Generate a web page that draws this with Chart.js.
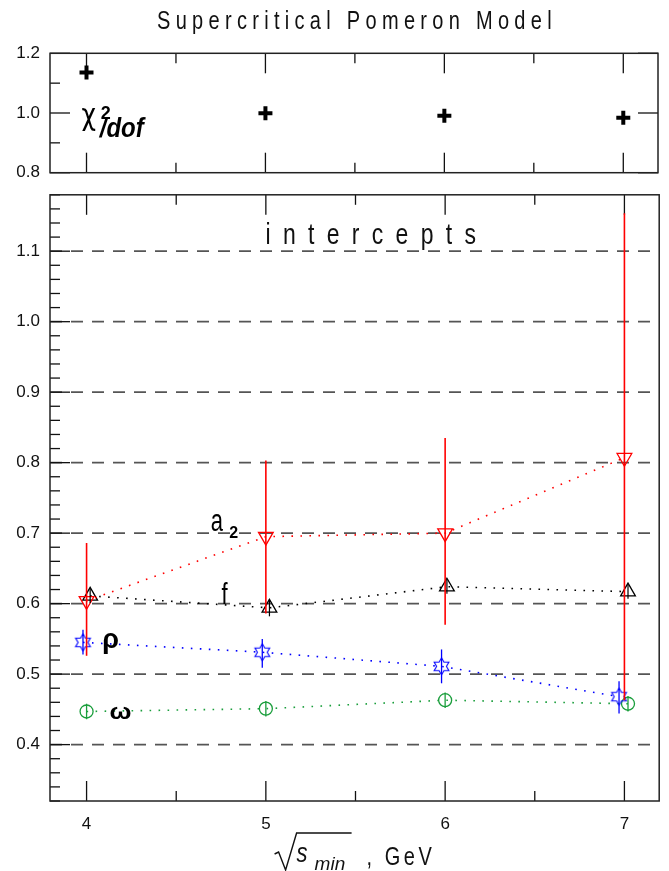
<!DOCTYPE html>
<html><head><meta charset="utf-8">
<script src="https://cdn.jsdelivr.net/npm/chart.js@4.4.0/dist/chart.umd.min.js"></script>
<style>
html,body{margin:0;padding:0;background:#fff;}
#wrap{position:relative;width:669px;height:871px;overflow:hidden;background:#fff;}
#c1{position:absolute;left:0;top:0;}
#c2{position:absolute;left:0;top:185px;}
</style></head><body>
<div id="wrap"><canvas id="c1" width="669" height="185"></canvas><canvas id="c2" width="669" height="686"></canvas></div>
<script>
// ---------------- data ----------------
const xCats = [4, 5, 6, 7];
const xTickLabels = ['4', '5', '6', '7'];
const chiTickValues = [0.8, 1.0, 1.2];
const chi2 = [1.136, 0.999, 0.991, 0.984];
const intTickValues = [0.4, 0.5, 0.6, 0.7, 0.8, 0.9, 1.0, 1.1];

const a2X = [4.0, 5.0, 6.0, 7.0];
const a2 = [0.604, 0.695, 0.700, 0.807];
const a2Plus = [0.082, 0.108, 0.135, 0.347];
const a2Minus = [0.078, 0.109, 0.130, 0.344];

const fX = [4.02, 5.02, 6.01, 7.02];
const fVal = [0.611, 0.594, 0.624, 0.617];
const fErr = [0.010, 0.012, 0.010, 0.010];

const rhoX = [3.98, 4.98, 5.98, 6.97];
const rho = [0.545, 0.531, 0.511, 0.468];
const rhoPlus = [0.018, 0.019, 0.024, 0.022];
const rhoMinus = [0.017, 0.022, 0.024, 0.024];

const omegaX = [4.0, 5.0, 6.0, 7.02];
const omega = [0.447, 0.451, 0.463, 0.458];
const omegaErr = [0.011, 0.011, 0.011, 0.011];

// ---------------- helpers ----------------
const FONT = "'Liberation Sans', Arial, sans-serif";
const X_MIN = 3.796, X_MAX = 7.194;
const RED = '#ff0000', BLUE = '#0000ff', GREEN = '#1a9e3c', BLACK = '#000000';

function pts(xs, ys) { return xs.map((x, i) => ({ x: x, y: ys[i] })); }
function seg(ctx, x1, y1, x2, y2) { ctx.beginPath(); ctx.moveTo(x1, y1); ctx.lineTo(x2, y2); ctx.stroke(); }
function txt(ctx, s, x, y, o) {
  ctx.save();
  ctx.font = o.font; ctx.fillStyle = o.color || '#000';
  try { ctx.letterSpacing = (o.ls || 0) + 'px'; } catch (e) {}
  ctx.textAlign = o.align || 'left'; ctx.textBaseline = 'alphabetic';
  ctx.translate(x, y); ctx.scale(1, o.k || 1);
  ctx.fillText(s, 0, 0);
  ctx.restore();
}
function hexagram(color, r) {
  const s = Math.ceil(2 * r + 4);
  const c = document.createElement('canvas'); c.width = s; c.height = s;
  const g = c.getContext('2d'); g.strokeStyle = color; g.lineWidth = 1.1;
  const cx = s / 2, cy = s / 2, ri = r / Math.sqrt(3);
  g.beginPath();
  for (let i = 0; i < 12; i++) {
    const a = -Math.PI / 2 + i * Math.PI / 6;
    const rr = i % 2 === 0 ? r : ri;
    const px = cx + rr * Math.cos(a), py = cy + rr * Math.sin(a);
    i ? g.lineTo(px, py) : g.moveTo(px, py);
  }
  g.closePath(); g.stroke();
  return c;
}
function xTickSet(scale) { // majors at categories, minors halfway
  const out = [];
  for (let k = Math.ceil(scale.min * 2); k <= Math.floor(scale.max * 2); k++) out.push({ v: k / 2, major: k % 2 === 0 });
  return out;
}
function fixW(w) { return s => { s.width = w; s.paddingTop = 0; s.paddingBottom = 0; s.paddingLeft = 0; s.paddingRight = 0; }; }
function fixH(h) { return s => { s.height = h; s.paddingTop = 0; s.paddingBottom = 0; s.paddingLeft = 0; s.paddingRight = 0; }; }

// ---------------- top panel ----------------
const panel1 = {
  id: 'panel1',
  beforeDatasetsDraw(chart) {
    const { ctx, chartArea: a, scales: { x, y } } = chart;
    ctx.save();
    ctx.strokeStyle = '#111'; ctx.lineWidth = 1.3;
    xTickSet(x).forEach(t => {
      const px = x.getPixelForValue(t.v), L = t.major ? 20 : 10;
      seg(ctx, px, a.bottom, px, a.bottom - L);
      seg(ctx, px, a.top, px, a.top + L);
    });
    for (let k = 8; k <= 12; k++) {
      const py = y.getPixelForValue(k / 10), major = k % 2 === 0;
      seg(ctx, a.left, py, a.left + (major ? 20 : 10), py);
      if (major) seg(ctx, a.right, py, a.right - 20, py);
    }
    ctx.strokeStyle = '#222'; ctx.lineWidth = 1.5;
    ctx.strokeRect(a.left, a.top, a.right - a.left, a.bottom - a.top);
    ctx.restore();
  },
  afterDraw(chart) {
    const { ctx, chartArea: a, scales: { x, y } } = chart;
    txt(ctx, 'Supercritical Pomeron Model', (a.left + a.right) / 2 + 3, 28.5,
      { font: '20px ' + FONT, k: 1.33, ls: 5.3, align: 'center', color: '#111' });
    txt(ctx, 'χ', x.getPixelForValue(3.972), y.getPixelForValue(0.961), { font: "25px 'DejaVu Sans', sans-serif", k: 1.2 });
    txt(ctx, '2', x.getPixelForValue(4.080), y.getPixelForValue(0.980), { font: 'bold 18px ' + FONT, k: 1.05 });
    txt(ctx, '/dof', x.getPixelForValue(4.074), y.getPixelForValue(0.92), { font: 'italic bold 24px ' + FONT, k: 1.15 });
  }
};

new Chart(document.getElementById('c1'), {
  type: 'scatter',
  data: { datasets: [{
    label: 'chi2/dof', data: pts(xCats, chi2),
    pointStyle: 'cross', pointRadius: 7, pointBorderWidth: 4,
    pointBorderColor: BLACK, borderColor: BLACK, showLine: false
  }] },
  options: {
    responsive: false, animation: false, events: [],
    layout: { padding: { top: 53.3, right: 7.3, bottom: 12.3, left: 0 } },
    plugins: { legend: { display: false }, tooltip: { enabled: false } },
    scales: {
      x: { type: 'linear', min: X_MIN, max: X_MAX, display: true,
           afterFit: fixH(0), grid: { display: false }, border: { display: false }, ticks: { display: false } },
      y: {
        type: 'linear', min: 0.8, max: 1.2,
        afterFit: fixW(50),
        afterBuildTicks: s => { s.ticks = chiTickValues.map(v => ({ value: v })); },
        grid: { display: false }, border: { display: false },
        ticks: { padding: 2, color: '#111', font: { family: FONT, size: 17 }, callback: v => Number(v).toFixed(1) }
      }
    }
  },
  plugins: [panel1]
});

// ---------------- bottom panel ----------------
const panel2 = {
  id: 'panel2',
  beforeDatasetsDraw(chart) {
    const { ctx, chartArea: a, scales: { x, y } } = chart;
    ctx.save();
    ctx.strokeStyle = '#555'; ctx.lineWidth = 1.8; ctx.setLineDash([12, 9]);
    y.ticks.forEach(t => { const py = y.getPixelForValue(t.value); seg(ctx, a.left, py, a.right, py); });
    ctx.setLineDash([]);
    ctx.strokeStyle = '#111'; ctx.lineWidth = 1.3;
    for (let k = Math.ceil(y.min / 0.02 - 1e-6); k <= Math.floor(y.max / 0.02 + 1e-6); k++) {
      const py = y.getPixelForValue(k * 0.02), major = k % 5 === 0;
      seg(ctx, a.left, py, a.left + (major ? 20 : 10), py);
    }
    xTickSet(x).forEach(t => {
      const px = x.getPixelForValue(t.v), L = t.major ? 20 : 10;
      seg(ctx, px, a.bottom, px, a.bottom - L);
      seg(ctx, px, a.top, px, a.top + L);
    });
    ctx.strokeStyle = '#222'; ctx.lineWidth = 1.5;
    ctx.strokeRect(a.left, a.top, a.right - a.left, a.bottom - a.top);
    ctx.restore();
  },
  afterDatasetsDraw(chart) {
    const { ctx, scales: { x, y } } = chart;
    ctx.save();
    chart.data.datasets.forEach(ds => {
      ctx.strokeStyle = ds.borderColor; ctx.lineWidth = ds.errWidth || 1.3;
      ds.data.forEach((p, i) => {
        const px = x.getPixelForValue(p.x);
        seg(ctx, px, y.getPixelForValue(p.y + ds.errPlus[i]), px, y.getPixelForValue(p.y - ds.errMinus[i]));
      });
    });
    ctx.restore();
  },
  afterDraw(chart) {
    const { ctx, chartArea: a, scales: { x, y } } = chart;
    const X = v => x.getPixelForValue(v), Y = v => y.getPixelForValue(v);
    txt(ctx, 'intercepts', X(4.998), Y(1.1095), { font: '23px ' + FONT, k: 1.25, ls: 12.3, color: '#111' });
    txt(ctx, 'a', X(4.692), Y(0.7034), { font: '22px ' + FONT, k: 1.4 });
    txt(ctx, '2', X(4.796), Y(0.6935), { font: 'bold 16px ' + FONT, k: 1.05 });
    txt(ctx, 'f', X(4.752), Y(0.600), { font: '22px ' + FONT, k: 1.35 });
    txt(ctx, 'ρ', X(4.088), Y(0.5377), { font: 'bold 27px ' + FONT, k: 1.0 });
    txt(ctx, 'ω', X(4.128), Y(0.437), { font: 'bold 26px ' + FONT, k: 0.85 });
    const cx = (a.left + a.right) / 2;
    const base = a.bottom + 61;
    ctx.save();
    ctx.strokeStyle = '#111'; ctx.lineWidth = 1.4;
    ctx.beginPath();
    ctx.moveTo(cx - 80, base - 8); ctx.lineTo(cx - 76, base - 10);
    ctx.lineTo(cx - 69, base + 8); ctx.lineTo(cx - 58, base - 29); ctx.lineTo(cx - 3, base - 29);
    ctx.stroke();
    ctx.restore();
    txt(ctx, 's', cx - 58, base, { font: 'italic 22px ' + FONT, k: 1.25, color: '#111' });
    txt(ctx, 'min', cx - 40, base + 8, { font: 'italic 19px ' + FONT, k: 1.0, color: '#111' });
    txt(ctx, ', GeV', cx + 12, base + 3, { font: '20px ' + FONT, k: 1.3, ls: 3.5, color: '#111' });
  }
};

const dotted = [1.6, 7.4];
new Chart(document.getElementById('c2'), {
  type: 'scatter',
  data: { datasets: [
    { label: 'a2', data: pts(a2X, a2), errPlus: a2Plus, errMinus: a2Minus, errWidth: 1.6,
      showLine: true, borderColor: RED, borderWidth: 1.6, borderDash: dotted,
      pointStyle: 'triangle', pointRotation: 180, pointRadius: 8.5, pointBorderWidth: 1.3,
      pointBorderColor: RED, pointBackgroundColor: 'rgba(0,0,0,0)' },
    { label: 'f', data: pts(fX, fVal), errPlus: fErr, errMinus: fErr, errWidth: 1.2,
      showLine: true, borderColor: BLACK, borderWidth: 1.6, borderDash: dotted,
      pointStyle: 'triangle', pointRadius: 8.5, pointBorderWidth: 1.3,
      pointBorderColor: BLACK, pointBackgroundColor: 'rgba(0,0,0,0)' },
    { label: 'rho', data: pts(rhoX, rho), errPlus: rhoPlus, errMinus: rhoMinus, errWidth: 1.3,
      showLine: true, borderColor: BLUE, borderWidth: 1.6, borderDash: dotted,
      pointStyle: hexagram(BLUE, 8.5), pointRadius: 8,
      pointBorderColor: BLUE, pointBackgroundColor: 'rgba(0,0,0,0)' },
    { label: 'omega', data: pts(omegaX, omega), errPlus: omegaErr, errMinus: omegaErr, errWidth: 1.3,
      showLine: true, borderColor: GREEN, borderWidth: 1.6, borderDash: dotted,
      pointStyle: 'circle', pointRadius: 6.5, pointBorderWidth: 1.3,
      pointBorderColor: GREEN, pointBackgroundColor: 'rgba(0,0,0,0)' }
  ] },
  options: {
    responsive: false, animation: false, events: [],
    layout: { padding: { top: 7.7, right: 7.3, bottom: 0, left: 0 } },
    plugins: { legend: { display: false }, tooltip: { enabled: false } },
    scales: {
      x: {
        type: 'linear', min: X_MIN, max: X_MAX,
        afterFit: fixH(70),
        afterBuildTicks: s => { s.ticks = xCats.map(v => ({ value: v })); },
        grid: { display: false }, border: { display: false },
        ticks: { padding: 5, color: '#111', font: { family: FONT, size: 17 }, maxRotation: 0, autoSkip: false,
                 callback: (v, i) => xTickLabels[i] }
      },
      y: {
        type: 'linear', min: 0.32, max: 1.18,
        afterFit: fixW(50),
        afterBuildTicks: s => { s.ticks = intTickValues.map(v => ({ value: v })); },
        grid: { display: false }, border: { display: false },
        ticks: { padding: 2, color: '#111', font: { family: FONT, size: 17 }, autoSkip: false,
                 callback: v => Number(v).toFixed(1) }
      }
    }
  },
  plugins: [panel2]
});
</script>
</body></html>
